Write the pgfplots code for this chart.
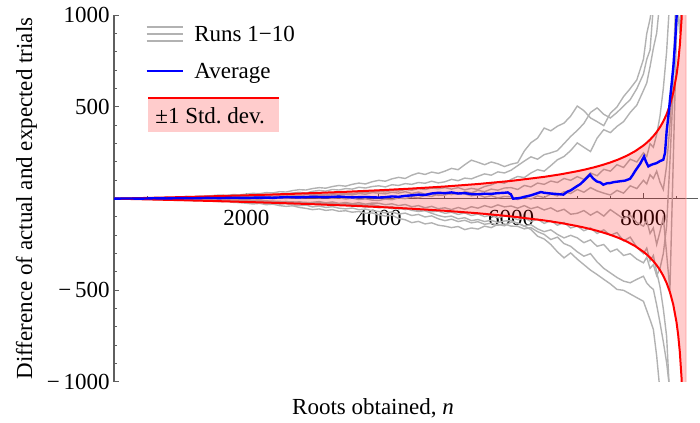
\documentclass[border=0pt]{standalone}
\usepackage{fontspec}
\setmainfont{Liberation Serif}
\usepackage{pgfplots}
\pgfplotsset{compat=1.18}
\usepackage{pgfplotstable}
\definecolor{rungray}{RGB}{178,178,178}
\definecolor{axgray}{RGB}{95,95,95}
\definecolor{sdpink}{RGB}{255,204,204}
\newcommand\fs{\fontsize{11.5bp}{13.8bp}\selectfont}

\pgfplotstableread{
n r1 r2 r3 r4 r5 r6 r7 r8 r9 r10
0 0 0 0 0 0 0 0 0 0 0
100 1 -1 1 -1 1 0 -1 -1 -1 0
200 -1 1 0 0 2 -1 -2 0 -2 1
300 2 0 1 -2 1 1 -1 -2 -1 -1
400 4 2 -1 -1 3 -2 -3 -1 -3 0
500 3 4 2 -3 2 0 -2 -3 -4 -2
600 6 2 0 -2 4 -3 -4 -5 -3 -1
700 5 5 3 -4 2 -1 -3 -4 -6 -3
800 8 3 1 -3 3 -4 -6 -7 -5 -1
900 7 6 4 -6 1 -2 -4 -6 -8 -4
1000 9 5 3 -5 2 -3 -5 -8 -10 -2
1100 12 8 5 -3 0 -6 -7 -6 -8 -5
1200 10 6 2 -6 2 -4 -5 -10 -12 -3
1300 14 10 6 -2 -1 -8 -9 -8 -10 -7
1400 13 8 4 -4 -3 -5 -7 -12 -14 -5
1500 17 12 8 0 -1 -9 -10 -10 -13 -8
1600 20 10 5 -3 -4 -7 -8 -14 -17 -6
1700 18 14 9 2 -2 -11 -12 -12 -15 -10
1800 22 12 7 0 -6 -8 -10 -17 -20 -8
1900 21 17 11 4 -3 -12 -14 -15 -22 -13
2000 25 15 10 5 -5 -10 -15 -20 -25 -12
2100 29 19 13 2 -1 -14 -12 -24 -29 -9
2200 27 16 9 7 -4 -11 -17 -21 -26 -14
2300 33 22 15 4 2 -16 -14 -27 -33 -11
2400 31 20 12 9 -1 -13 -20 -24 -30 -17
2500 38 27 17 6 4 -18 -17 -30 -38 -14
2600 36 24 14 11 1 -15 -23 -27 -42 -20
2700 44 31 19 8 6 -21 -20 -34 -39 -17
2800 49 35 16 13 3 -17 -27 -38 -48 -23
2900 47 30 22 10 8 -23 -24 -35 -53 -20
3000 55 40 20 15 10 -20 -30 -45 -60 -25
3100 60 45 25 19 5 -16 -26 -40 -56 -21
3200 57 41 21 14 9 -23 -33 -48 -64 -28
3300 66 50 28 22 2 -18 -29 -44 -60 -24
3400 72 47 24 18 6 -26 -37 -52 -69 -31
3500 68 55 31 25 -2 -21 -33 -56 -66 -27
3600 78 52 27 20 3 -28 -41 -51 -74 -34
3700 85 62 35 28 -5 -22 -37 -60 -70 -30
3800 80 58 32 24 -1 -30 -46 -57 -80 -37
3900 92 66 38 33 -8 -24 -42 -66 -78 -33
4000 100 70 40 30 -10 -25 -50 -70 -87 -40
4100 95 64 36 26 -2 -33 -45 -78 -95 -48
4200 108 76 45 35 -6 -28 -55 -72 -90 -44
4300 116 72 41 30 4 -38 -50 -84 -108 -56
4400 110 82 50 38 0 -32 -60 -79 -115 -52
4500 128 78 46 28 10 -44 -54 -92 -131 -64
4600 140 88 55 36 5 -38 -66 -86 -124 -70
4700 132 84 50 24 18 -50 -60 -100 -138 -66
4800 145 95 58 30 12 -42 -72 -94 -132 -80
4900 138 86 54 18 25 -55 -68 -110 -145 -92
5000 150 92 60 20 30 -50 -80 -120 -150 -100
5100 165 105 52 30 22 -60 -74 -112 -158 -95
5200 158 98 60 24 34 -48 -86 -125 -152 -110
5300 185 112 48 38 26 -58 -78 -118 -169 -104
5400 210 108 56 32 15 -44 -92 -132 -160 -120
5500 198 122 50 45 22 -52 -84 -126 -166 -114
5600 185 135 66 38 8 -38 -98 -140 -150 -125
5700 200 128 75 52 16 -48 -90 -134 -158 -118
5800 190 146 90 46 4 -34 -104 -145 -140 -130
5900 175 140 84 58 12 -45 -95 -138 -148 -122
6000 188 155 105 60 10 -40 -100 -150 -128 -120
6100 196 180 121 50 -5 -52 -115 -151 -132 -135
6200 260 205 115 72 8 -38 -105 -165 -150 -150
6300 305 228 140 64 -2 -55 -125 -158 -168 -142
6400 330 215 158 85 15 -45 -112 -180 -205 -165
6500 385 240 150 78 6 -62 -135 -195 -220 -180
6600 370 250 180 96 25 -50 -120 -223 -250 -170
6700 395 262 212 88 15 -70 -145 -210 -290 -195
6800 412 300 230 110 38 -58 -130 -245 -323 -214
6900 450 339 262 100 28 -85 -160 -260 -296 -200
7000 505 372 304 120 50 -80 -150 -290 -330 -214
7100 480 410 280 105 35 -65 -175 -314 -360 -240
7200 440 470 257 140 60 -90 -160 -300 -390 -225
7300 420 495 330 125 42 -70 -190 -345 -414 -260
7400 398 460 376 160 30 -95 -170 -380 -440 -250
7500 466 440 360 150 20 -60 -200 -405 -465 -290
7600 500 470 394 185 45 -85 -185 -430 -495 -275
7700 557 505 420 170 30 -110 -230 -450 -500 -310
7800 600 540 470 215 70 -90 -210 -459 -520 -300
7900 648 600 510 200 55 -130 -265 -440 -540 -330
8000 760 680 590 250 100 -150 -300 -423 -560 -350
8050 900 760 631 230 80 -120 -270 -460 -610 -320
8100 980 811 720 300 130 -190 -340 -480 -660 -380
8150 1100 1050 820 280 110 -160 -310 -495 -713 -360
8200 1250 1150 903 350 150 -250 -400 -580 -858 -420
8250 1150 1350 1083 450 90 -180 -480 -677 -1050 -380
8300 1400 1250 1200 600 50 -100 -600 -780 -1150 -300
8350 1300 1500 1400 800 180 -300 -750 -894 -1350 -150
8400 1600 1450 1300 1100 400 -500 -1100 -1050 -1300 200
8450 1500 1700 1600 1300 700 200 -1300 -1200 -1600 600
8500 1900 1650 1800 1200 1200 900 -1200 -1400 -1800 1100
8550 1700 2000 1600 1600 1400 1500 -1500 -1300 -1700 900
8600 2200 2300 2100 1900 1800 1800 -1800 -1700 -2000 1400
}\runs

\pgfplotstableread{
n a
0 0
200 1
400 0
600 2
800 1
1000 3
1200 2
1400 4
1600 3
1800 5
2000 4
2200 6
2400 5
2600 8
2800 7
3000 10
3200 8
3400 11
3600 7
3800 9
4000 6
4100 8
4200 12
4300 10
4400 15
4500 18
4600 22
4700 20
4800 28
4900 32
5000 30
5100 34
5200 28
5300 30
5400 25
5500 24
5600 27
5700 26
5800 30
5900 32
5950 34
6000 22
6030 0
6100 2
6150 5
6200 10
6300 18
6400 30
6450 36
6500 32
6600 28
6700 25
6790 22
6850 38
6900 45
6992 67
7050 80
7100 98
7193 131
7240 110
7294 94
7350 88
7394 76
7450 84
7495 85
7550 90
7650 95
7720 98
7797 108
7840 130
7873 150
7950 190
8009 230
8040 200
8074 176
8120 185
8200 194
8250 205
8300 212
8326 249
8351 370
8380 460
8401 540
8430 640
8452 720
8480 860
8502 1000
8530 1150
}\avg

\pgfplotstableread{
n up lo
0 0 0
250 1.94 -1.94
500 3.96 -3.96
1000 8.25 -8.25
1500 12.94 -12.94
2000 18.09 -18.09
2500 23.78 -23.78
3000 30.15 -30.15
3500 37.32 -37.32
4000 45.52 -45.52
4500 55.01 -55.01
5000 66.23 -66.23
5500 79.78 -79.78
6000 96.71 -96.71
6500 118.8 -118.8
6750 132.7 -132.7
7000 149.6 -149.6
7125 159.4 -159.4
7250 170.4 -170.4
7375 183.0 -183.0
7500 197.4 -197.4
7625 214.2 -214.2
7750 234.3 -234.3
7875 258.9 -258.9
8000 290.0 -290.0
8050 304.9 -304.9
8100 321.8 -321.8
8150 341.1 -341.1
8200 363.4 -363.4
8250 389.6 -389.6
8300 421.2 -421.2
8350 460.1 -460.1
8400 509.9 -509.9
8450 577.0 -577.0
8500 674.6 -674.6
8525 743.8 -743.8
8550 837.3 -837.3
8575 973.6 -973.6
8590 1093 -1093
8600 1201 -1201
8610 1347 -1347
8620 1561 -1561
8630 1918 -1918
8643 3259 -3259
}\sdtab

% closed outline of the +/-1 s.d. band: upper edge forward, lower edge back
\pgfplotstableread{
n y
0 0
250 1.94
500 3.96
1000 8.25
1500 12.94
2000 18.09
2500 23.78
3000 30.15
3500 37.32
4000 45.52
4500 55.01
5000 66.23
5500 79.78
6000 96.71
6500 118.8
6750 132.7
7000 149.6
7125 159.4
7250 170.4
7375 183.0
7500 197.4
7625 214.2
7750 234.3
7875 258.9
8000 290.0
8050 304.9
8100 321.8
8150 341.1
8200 363.4
8250 389.6
8300 421.2
8350 460.1
8400 509.9
8450 577.0
8500 674.6
8525 743.8
8550 837.3
8575 973.6
8590 1093
8600 1201
8610 1347
8620 1561
8630 1918
8643 3259
8643 -3259
8630 -1918
8620 -1561
8610 -1347
8600 -1201
8590 -1093
8575 -973.6
8550 -837.3
8525 -743.8
8500 -674.6
8450 -577.0
8400 -509.9
8350 -460.1
8300 -421.2
8250 -389.6
8200 -363.4
8150 -341.1
8100 -321.8
8050 -304.9
8000 -290.0
7875 -258.9
7750 -234.3
7625 -214.2
7500 -197.4
7375 -183.0
7250 -170.4
7125 -159.4
7000 -149.6
6750 -132.7
6500 -118.8
6000 -96.71
5500 -79.78
5000 -66.23
4500 -55.01
4000 -45.52
3500 -37.32
3000 -30.15
2500 -23.78
2000 -18.09
1500 -12.94
1000 -8.25
500 -3.96
250 -1.94
0 0
}\band

\begin{document}
\begin{tikzpicture}[font=\fs]
\begin{axis}[
  at={(57bp,20.5bp)}, anchor=south west,
  scale only axis, width=291.85bp, height=183.35bp,
  axis lines=middle,
  axis line style={-, draw=axgray, line width=0.6bp},
  xmin=0, xmax=8820, ymin=-1000, ymax=1000,
  clip=true,
  xtick={2000,4000,6000,8000},
  xticklabels={2000,4000,6000,8000},
  minor xtick={500,1000,1500,2500,3000,3500,4500,5000,5500,6500,7000,7500,8500},
  ytick={-1000,-500,500,1000},
  yticklabels={−\,1000,−\,500,500,1000},
  minor ytick={-900,-800,-700,-600,-400,-300,-200,-100,100,200,300,400,600,700,800,900},
  tick align=inside,
  major tick length=2.6bp, minor tick length=1.4bp,
  every tick/.style={draw=axgray, line width=0.5bp},
  xticklabel style={inner sep=0pt, yshift=-5.5bp},
  yticklabel style={inner sep=0pt, xshift=-2bp},
]
\addplot[rungray, line width=0.7bp] table[x=n, y=r1] {\runs};
\addplot[rungray, line width=0.7bp] table[x=n, y=r2] {\runs};
\addplot[rungray, line width=0.7bp] table[x=n, y=r3] {\runs};
\addplot[rungray, line width=0.7bp] table[x=n, y=r4] {\runs};
\addplot[rungray, line width=0.7bp] table[x=n, y=r5] {\runs};
\addplot[rungray, line width=0.7bp] table[x=n, y=r6] {\runs};
\addplot[rungray, line width=0.7bp] table[x=n, y=r7] {\runs};
\addplot[rungray, line width=0.7bp] table[x=n, y=r8] {\runs};
\addplot[rungray, line width=0.7bp] table[x=n, y=r9] {\runs};
\addplot[rungray, line width=0.7bp] table[x=n, y=r10] {\runs};
\addplot[draw=red!40, line width=0.3bp, fill=red, fill opacity=0.2] table[x=n, y=y] {\band} -- cycle;
\addplot[red, line width=1bp] table[x=n, y=up] {\sdtab};
\addplot[red, line width=1bp] table[x=n, y=lo] {\sdtab};
\addplot[blue, line width=1.2bp] table[x=n, y=a] {\avg};
\end{axis}
% legend
\draw[rungray, line width=1bp] (73.35bp,198.15bp) -- (91.35bp,198.15bp);
\draw[rungray, line width=1bp] (73.35bp,194.5bp) -- (91.35bp,194.5bp);
\draw[rungray, line width=1bp] (73.35bp,190.85bp) -- (91.35bp,190.85bp);
\node[anchor=base west, inner sep=0pt] at (97bp,190.65bp) {Runs 1−10};
\draw[blue, line width=1.1bp] (73.35bp,176bp) -- (91.35bp,176bp);
\node[anchor=base west, inner sep=0pt] at (97bp,172bp) {Average};
\fill[sdpink] (74.15bp,145.65bp) rectangle (139.65bp,162.5bp);
\draw[red, line width=1.2bp] (74.15bp,162.35bp) -- (139.65bp,162.35bp);
\node[anchor=base west, inner sep=0pt] at (77.5bp,149.5bp) {±1 Std.\ dev.};
% axis labels
\node[rotate=90, anchor=base, inner sep=0pt] at (16bp,112.25bp) {Difference of actual and expected trials};
\node[anchor=base, inner sep=0pt] at (186.5bp,4.5bp) {Roots obtained, \textit{n}};
\pgfresetboundingbox
\path[use as bounding box] (0,0) rectangle (350bp,211.5bp);
\end{tikzpicture}
\end{document}
